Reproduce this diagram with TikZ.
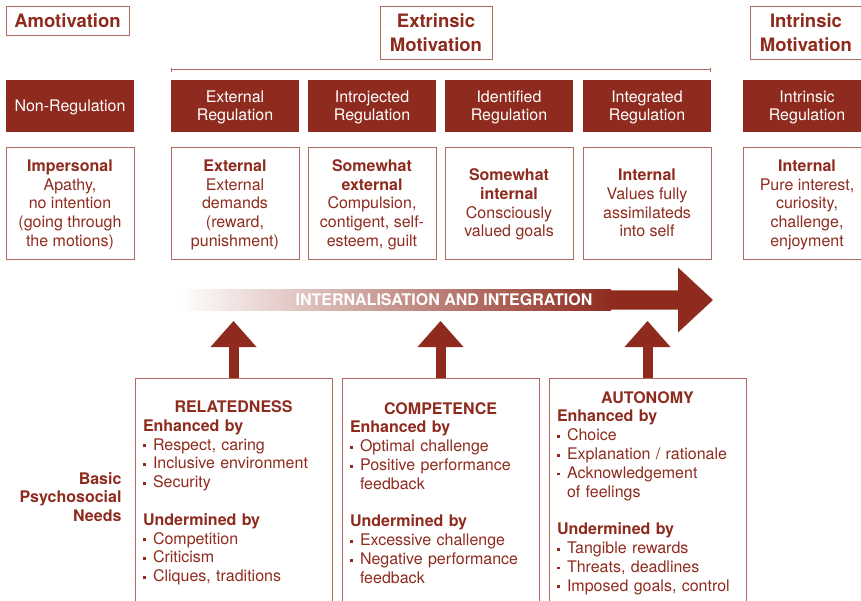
\documentclass[tikz,border=0pt]{standalone}
\usepackage{fontspec}
\setmainfont{TeX Gyre Heros}
\usepackage{xcolor}
\usetikzlibrary{arrows.meta,positioning}
\definecolor{rust}{RGB}{142,43,30}
\definecolor{salmon}{RGB}{208,152,132}
\newcommand{\bul}{\makebox[10pt][l]{\raisebox{2.8pt}{\rule{2.8pt}{2.8pt}}}}
\newcommand{\hang}{\hspace*{10pt}}

\begin{document}
\begin{tikzpicture}[x=1pt,y=-1pt,
  title/.style={draw=rust!70,line width=0.8pt,text=rust,inner sep=0pt,align=center,font=\bfseries\fontsize{18.5}{23.5}\selectfont},
  reg/.style={fill=rust,text=white,minimum width=128pt,minimum height=52pt,inner sep=0pt,text depth=0pt,align=center,font=\fontsize{16}{18}\selectfont},
  desc/.style={draw=rust!70,line width=0.8pt,text=rust,minimum width=128pt,minimum height=112pt,inner sep=0pt,text depth=0pt,align=center,font=\fontsize{16}{18.7}\selectfont},
  need/.style={draw=rust!70,line width=0.8pt,text=rust,text width=181pt,inner sep=8pt,minimum height=229pt,anchor=north,align=left,font=\fontsize{16}{18.8}\selectfont},
  up/.style={draw=rust,line width=10pt,-{Triangle[width=46pt,length=26pt,line width=0pt]}}]

\useasboundingbox (0,0) rectangle (861,601);

\node[title,minimum width=123pt,minimum height=29pt] (amot) at (67.5,20.5) {Amotivation};
\node[title,minimum width=112pt,minimum height=53pt] (extr) at (436,32.5) {Extrinsic\\Motivation};
\node[title,minimum width=112pt,minimum height=53pt] (intr) at (806,32.5) {Intrinsic\\Motivation};

% regulation styles and their loci
\foreach \x/\n/\r/\d in {
  70/non/Non-Regulation/{\textbf{Impersonal}\\Apathy,\\no intention\\(going through\\the motions)},
  235/ext/External\\Regulation/{\textbf{External}\\External\\demands\\(reward,\\punishment)},
  372/intro/Introjected\\Regulation/{\textbf{Somewhat}\\\textbf{external}\\Compulsion,\\contigent, self-\\esteem, guilt},
  509/ident/Identified\\Regulation/{\textbf{Somewhat}\\\textbf{internal}\\Consciously\\valued goals},
  647/integ/Integrated\\Regulation/{\textbf{Internal}\\Values fully\\assimilateds\\into self},
  807/intrin/Intrinsic\\Regulation/{\textbf{Internal}\\Pure interest,\\curiosity,\\challenge,\\enjoyment}}
{
  \node[reg] (\n) at (\x,106) {\r};
  \node[desc] (\n-txt) at (\x,203) {\d};
}
\draw[rust!70,line width=0.8pt,{Bar[width=4pt]}-{Bar[width=4pt]}] ([yshift=10pt]ext.north west) -- ([yshift=10pt]integ.north east);

% big arrow
\fill[rust] (180,290.5) -- (678,290.5) -- (678,267.5) -- (713,300) -- (678,332.5) -- (678,309.5) -- (180,309.5) -- cycle;
\shade[left color=white,middle color=salmon,right color=rust] (179,290) rectangle (611,310);
\node[text=white,font=\bfseries\fontsize{16}{18}\selectfont] (flow) at (444,300) {INTERNALISATION AND INTEGRATION};
\coordinate (base) at (0,321);

\node[need] (rel) at (233.5,378) {\hfill\textbf{RELATEDNESS}\hfill\null\\
  \textbf{Enhanced by}\\
  \bul Respect, caring\\
  \bul Inclusive environment\\
  \bul Security\\[18.8pt]
  \textbf{Undermined by}\\
  \bul Competition\\
  \bul Criticism\\
  \bul Cliques, traditions};
\node[need] (comp) at (440.5,378) {\hfill\textbf{COMPETENCE}\hfill\null\\
  \textbf{Enhanced by}\\
  \bul Optimal challenge\\
  \bul Positive performance\\
  \hang feedback\\[18.8pt]
  \textbf{Undermined by}\\
  \bul Excessive challenge\\
  \bul Negative performance\\
  \hang feedback};
\node[need] (auto) at (647.5,378) {\hfill\textbf{AUTONOMY}\hfill\null\\
  \textbf{Enhanced by}\\
  \bul Choice\\
  \bul Explanation / rationale\\
  \bul Acknowledgement\\
  \hang of feelings\\[18.8pt]
  \textbf{Undermined by}\\
  \bul Tangible rewards\\
  \bul Threats, deadlines\\
  \bul Imposed goals, control};

\node[anchor=east,align=right,text=rust,font=\bfseries\fontsize{16}{18.7}\selectfont] (basic) at (125,497) {Basic\\Psychosocial\\Needs};

\foreach \n in {rel,comp,auto}
  \draw[up] (\n.north) -- (\n.north |- base);
\end{tikzpicture}
\end{document}
